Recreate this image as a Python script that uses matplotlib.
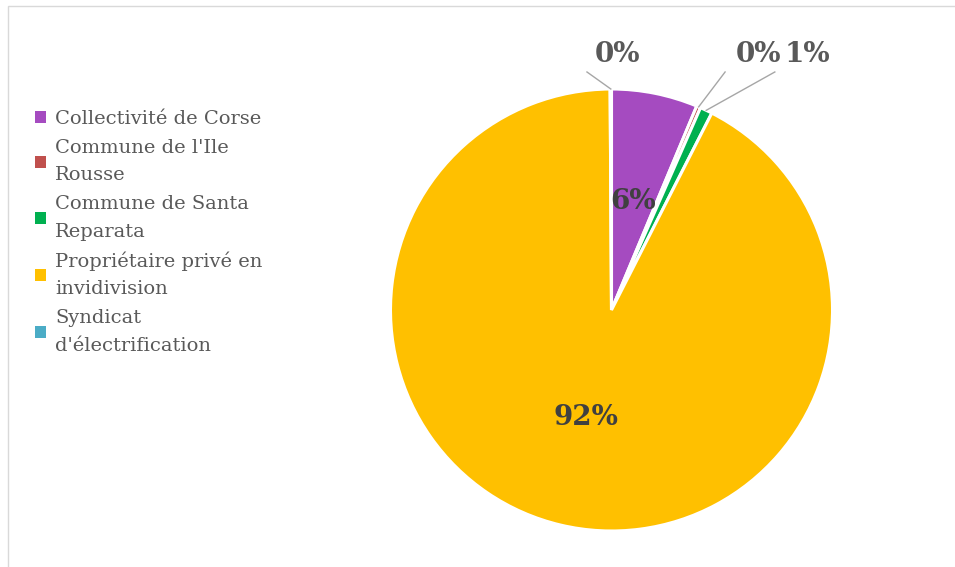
import numpy as np
import matplotlib
matplotlib.use("Agg")
import matplotlib.pyplot as plt
from matplotlib.patches import Rectangle

# Ownership shares (percent of area)
owners = [
    "Collectivité de Corse",
    "Commune de l'Ile\nRousse",
    "Commune de Santa\nReparata",
    "Propriétaire privé en\ninvidivision",
    "Syndicat\nd'électrification",
]
shares = [6.3, 0.3, 0.9, 92.4, 0.1]
colors = ["#A54BC0", "#C0504D", "#00B050", "#FFC000", "#4BACC6"]

# Label placement: inside for large slices, outside with leader lines for thin ones
inside = [True, False, False, True, False]
outside_text_pos = {1: (0.665, 1.154), 2: (0.885, 1.154), 4: (0.027, 1.154)}
outside_line_end = {1: (0.514, 1.077), 2: (0.739, 1.077), 4: (-0.111, 1.077)}

W, H = 955, 567
fig = plt.figure(figsize=(W / 100, H / 100), dpi=100)
fig.patch.set_facecolor("white")

# light frame around the chart area
fig.add_artist(Rectangle((8 / W, -0.1), 1.2, (H - 6) / H + 0.1,
                         transform=fig.transFigure, fill=False,
                         ec="#d9d9d9", lw=1.0))

cx, cy, r = 611.5, 310, 221
ax = fig.add_axes([(cx - r) / W, (H - cy - r) / H, 2 * r / W, 2 * r / H])
wedges, _ = ax.pie(shares, colors=colors, startangle=90, counterclock=False,
                   radius=1.0, wedgeprops=dict(edgecolor="white", linewidth=2.2))
ax.set_xlim(-1, 1)
ax.set_ylim(-1, 1)
ax.set_aspect("equal")
ax.axis("off")

total = float(np.sum(shares))
pct_font = dict(family="DejaVu Serif", fontweight="bold", fontsize=20)
for i, (w, v) in enumerate(zip(wedges, shares)):
    txt = f"{round(v / total * 100):.0f}%"
    ang = np.deg2rad((w.theta1 + w.theta2) / 2)
    if inside[i]:
        ax.text(0.5 * np.cos(ang), 0.5 * np.sin(ang), txt, ha="center",
                va="center", color="#404040", **pct_font)
    else:
        x0, y0 = np.cos(ang), np.sin(ang)
        x1, y1 = outside_line_end[i]
        ax.plot([x0, x1], [y0, y1], color="#a6a6a6", lw=1.0, clip_on=False)
        tx, ty = outside_text_pos[i]
        ax.text(tx, ty, txt, ha="center", va="center", color="#595959",
                clip_on=False, **pct_font)

leg = fig.legend(wedges, owners, loc="upper left",
                 bbox_to_anchor=(35 / W, 1 - 110 / H),
                 frameon=False, prop=dict(family="DejaVu Serif", size=14),
                 handlelength=0.55, handleheight=0.55, handletextpad=0.5,
                 labelspacing=0.56, borderaxespad=0, borderpad=0)
for t in leg.get_texts():
    t.set_color("#595959")
    t.set_linespacing(1.67)
for h in leg.legend_handles:
    h.set_edgecolor("none")

fig.savefig("out.png", dpi=100, facecolor="white")
